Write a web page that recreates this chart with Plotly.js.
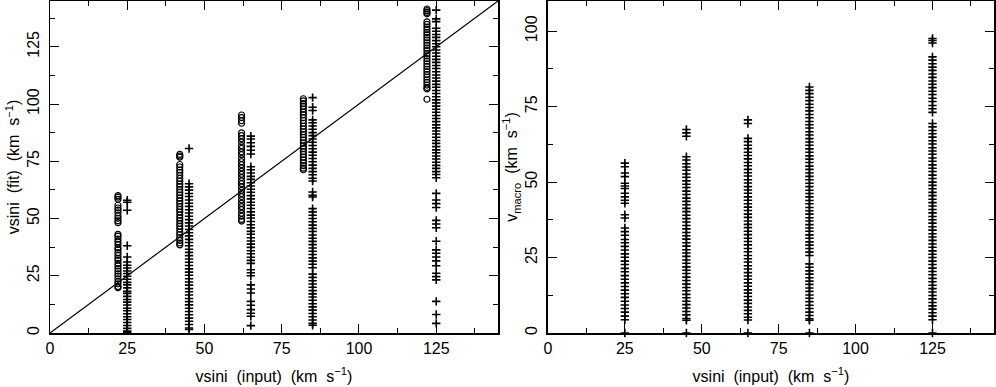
<!DOCTYPE html>
<html>
<head>
<meta charset="utf-8">
<script src="https://cdn.plot.ly/plotly-3.0.1.min.js"></script>
<style>
  html, body { margin: 0; padding: 0; background: #fff; }
  #chart { width: 996px; height: 387px; }
</style>
</head>
<body>
<div id="chart"></div>
<script>
// Left panel: fitted vsini vs input vsini (circles: one method, plus: other)
var fitCircleX = [22, 42, 62, 82, 122]
var fitPlusX = [25, 45, 65, 85, 125]

var fitCircle22 = [60.0, 59.3, 58.4, 55.8, 54.6, 53.7, 52.5, 51.2, 50.1, 49.0, 48.2, 43.1, 42.3, 41.0, 39.8, 38.7, 37.2, 36.4, 35.1, 33.9, 32.6, 31.8, 30.4, 29.3, 28.1, 27.0, 25.8, 24.9, 23.6, 22.4, 21.5, 20.3, 19.8]
var fitCircle42 = [78.0, 77.3, 76.8, 73.6, 72.5, 71.2, 70.1, 68.8, 67.5, 66.3, 65.0, 63.9, 62.6, 61.4, 60.2, 58.9, 57.7, 56.5, 55.2, 54.0, 52.8, 51.5, 50.3, 49.1, 47.8, 46.6, 45.4, 44.1, 42.9, 41.6, 40.4, 39.3, 38.5]
var fitCircle62 = [95.2, 94.1, 92.7, 91.6, 87.4, 86.2, 84.9, 83.5, 81.8, 80.6, 79.1, 77.9, 76.2, 74.8, 73.5, 72.1, 70.6, 69.3, 67.9, 66.4, 65.2, 63.8, 62.3, 60.9, 59.6, 58.1, 56.6, 55.2, 53.9, 52.3, 51.0, 49.6, 48.9]
var fitCircle82 = [102.3, 101.4, 100.2, 99.0, 97.8, 96.5, 95.3, 94.0, 92.8, 91.6, 90.3, 89.1, 87.9, 86.6, 85.4, 84.2, 82.9, 81.7, 80.5, 79.2, 78.0, 76.8, 75.5, 74.3, 73.1, 72.0, 71.3]
var fitCircle122 = [141.5, 140.8, 140.0, 139.4, 135.9, 134.8, 133.6, 132.5, 131.3, 130.2, 129.0, 127.9, 126.7, 125.6, 124.4, 123.3, 122.1, 121.0, 119.8, 118.7, 117.5, 116.4, 115.2, 114.1, 112.9, 111.8, 110.6, 109.5, 108.3, 107.2, 106.6, 102.1]

var fitPlus25 = [58.0, 57.1, 53.6, 38.1, 33.2, 31.0, 29.6, 28.4, 27.1, 26.0, 24.8, 23.5, 22.1, 21.0, 19.7, 18.2, 17.3, 16.0, 14.6, 13.5, 12.2, 10.8, 9.7, 8.4, 7.1, 5.9, 4.6, 3.3, 2.0, 0.8, 0.2]
var fitPlus45 = [80.6, 65.2, 63.8, 62.4, 60.9, 59.6, 58.1, 56.7, 55.3, 53.8, 52.4, 51.0, 49.5, 48.1, 46.7, 45.2, 43.8, 42.4, 40.9, 39.5, 38.1, 36.6, 35.2, 33.8, 32.3, 30.9, 29.5, 28.0, 26.6, 25.2, 23.7, 22.3, 20.9, 19.4, 18.0, 16.6, 15.1, 13.7, 12.3, 10.8, 9.4, 8.0, 6.5, 5.1, 3.7, 2.2, 1.5]
var fitPlus65 = [86.0, 84.7, 83.1, 81.5, 79.8, 78.2, 72.6, 71.3, 69.9, 68.4, 67.1, 65.6, 64.2, 62.8, 61.5, 60.0, 58.6, 57.1, 55.8, 54.4, 52.9, 51.5, 50.2, 48.7, 47.3, 45.9, 44.4, 43.1, 41.6, 40.2, 38.8, 37.4, 35.9, 34.6, 33.1, 31.7, 30.4, 27.6, 26.3, 25.0, 21.0, 19.2, 17.5, 13.8, 12.1, 10.2, 8.6, 7.3, 3.2]
var fitPlus85 = [102.8, 98.6, 97.2, 93.1, 91.8, 90.4, 89.0, 87.5, 86.2, 84.7, 83.3, 81.9, 80.5, 79.0, 77.6, 76.2, 74.8, 73.3, 71.9, 70.5, 69.1, 67.6, 66.4, 61.6, 60.1, 59.4, 54.3, 52.9, 51.4, 50.0, 48.6, 47.1, 45.7, 44.3, 42.8, 41.4, 40.0, 38.6, 37.1, 35.7, 34.3, 32.8, 31.4, 30.0, 28.5, 25.7, 24.3, 22.8, 21.4, 20.0, 18.5, 17.1, 15.7, 14.3, 12.8, 11.4, 10.0, 8.5, 7.1, 5.7, 4.2, 3.4]
var fitPlus125 = [141.0, 137.2, 136.0, 133.1, 131.8, 130.4, 129.1, 127.7, 126.3, 125.0, 123.6, 122.3, 120.9, 119.5, 118.2, 116.8, 115.5, 114.1, 112.7, 111.4, 110.0, 108.6, 107.3, 105.9, 104.6, 103.2, 101.8, 100.5, 99.1, 97.7, 96.4, 95.0, 93.7, 92.3, 90.9, 89.6, 88.2, 86.9, 85.5, 84.1, 82.8, 81.4, 80.0, 78.7, 77.3, 76.0, 74.6, 73.2, 71.9, 70.5, 69.2, 67.8, 61.0, 58.1, 56.5, 54.8, 49.2, 47.6, 46.0, 40.1, 36.3, 34.8, 33.2, 31.5, 29.4, 26.1, 24.6, 23.2, 13.8, 8.1, 4.2]

// one-to-one line
var lineX = [0, 145]
var lineY = [0, 145]

// Right panel: macroturbulence vs input vsini
var macroX = [25, 45, 65, 85, 125]
var macro25 = [56.3, 55.1, 53.0, 51.8, 49.6, 48.7, 47.9, 46.3, 45.1, 44.0, 43.0, 39.2, 38.1, 34.8, 33.6, 32.4, 31.0, 29.9, 28.7, 27.5, 26.2, 25.1, 23.8, 22.7, 21.4, 20.3, 19.0, 17.8, 16.6, 15.4, 14.2, 13.0, 11.8, 10.5, 9.3, 8.1, 6.9, 5.6, 4.4, 0.0]
var macro45 = [67.4, 66.3, 65.2, 58.4, 57.3, 56.1, 55.0, 53.9, 52.7, 51.6, 50.4, 49.3, 48.2, 47.0, 45.9, 44.7, 43.6, 42.5, 41.3, 40.2, 39.0, 37.9, 36.8, 35.6, 34.5, 33.3, 32.2, 31.1, 29.9, 28.8, 27.6, 26.5, 25.4, 24.2, 23.1, 21.9, 20.8, 19.7, 18.5, 17.4, 16.2, 15.1, 14.0, 12.8, 11.7, 10.5, 9.4, 8.3, 7.1, 6.0, 4.8, 4.2, 0.0]
var macro65 = [70.6, 69.4, 64.5, 63.4, 62.2, 61.1, 59.9, 58.8, 57.7, 56.5, 55.4, 54.2, 53.1, 52.0, 50.8, 49.7, 48.5, 47.4, 46.3, 45.1, 44.0, 42.8, 41.7, 40.6, 39.4, 38.3, 37.1, 36.0, 34.9, 33.7, 32.6, 31.4, 30.3, 29.2, 28.0, 26.9, 25.7, 24.6, 23.5, 22.3, 21.2, 20.0, 18.9, 17.8, 16.6, 15.5, 14.3, 13.2, 12.1, 10.9, 9.8, 8.6, 7.5, 6.4, 5.2, 4.3, 0.0]
var macro85 = [81.5, 80.4, 79.3, 78.1, 77.0, 75.8, 74.7, 73.6, 72.4, 71.3, 70.1, 69.0, 67.9, 66.7, 65.6, 64.4, 63.3, 62.2, 61.0, 59.9, 58.7, 57.6, 56.5, 55.3, 54.2, 53.0, 51.9, 50.8, 49.6, 48.5, 47.3, 46.2, 45.1, 43.9, 42.8, 41.6, 40.5, 39.4, 38.2, 37.1, 35.9, 34.8, 33.7, 32.5, 31.4, 30.2, 29.1, 28.0, 26.8, 25.7, 22.9, 21.8, 20.6, 19.5, 18.3, 17.2, 16.1, 14.9, 13.8, 12.6, 11.5, 10.4, 9.2, 8.1, 6.9, 5.8, 4.7, 4.2, 0.0]
var macro125 = [97.6, 96.9, 96.1, 91.5, 90.4, 89.2, 88.1, 87.0, 85.8, 84.7, 83.5, 82.4, 81.3, 80.1, 79.0, 77.8, 76.7, 75.4, 74.3, 73.1, 69.4, 68.3, 67.1, 66.0, 64.9, 63.7, 62.6, 61.4, 60.3, 59.2, 58.0, 56.9, 55.7, 54.6, 53.5, 52.3, 51.2, 50.0, 48.9, 47.8, 46.6, 45.5, 44.3, 43.2, 42.1, 40.9, 39.8, 38.6, 37.5, 36.4, 35.2, 34.1, 32.9, 31.8, 30.7, 29.5, 28.4, 27.2, 26.1, 25.0, 23.8, 22.7, 21.5, 20.4, 19.3, 18.1, 17.0, 15.8, 14.7, 13.6, 12.4, 11.3, 10.1, 9.0, 7.9, 6.7, 5.6, 4.4, 0.0]

var fitCircles = [fitCircle22, fitCircle42, fitCircle62, fitCircle82, fitCircle122]
var fitPluses = [fitPlus25, fitPlus45, fitPlus65, fitPlus85, fitPlus125]
var macroCols = [macro25, macro45, macro65, macro85, macro125]

function column(xs, cols) {
    var x = [], y = []
    for (let i = 0; i < cols.length; i++) {
        for (let j = 0; j < cols[i].length; j++) {
            x.push(xs[i])
            y.push(cols[i][j])
        }
    }
    return { x: x, y: y }
}

var circ = column(fitCircleX, fitCircles)
var plus = column(fitPlusX, fitPluses)
var mac = column(macroX, macroCols)

var plusMarker = { symbol: 'cross-thin-open', size: 6, color: '#000', line: { color: '#000', width: 1.6 } }

var traces = [
    {
        x: circ.x, y: circ.y, mode: 'markers', type: 'scatter',
        marker: { symbol: 'circle-open', size: 6, color: '#000', line: { color: '#000', width: 1.2 } },
        xaxis: 'x', yaxis: 'y'
    },
    {
        x: plus.x, y: plus.y, mode: 'markers', type: 'scatter',
        marker: plusMarker, xaxis: 'x', yaxis: 'y'
    },
    {
        x: lineX, y: lineY, mode: 'lines', type: 'scatter',
        line: { color: '#000', width: 1.2 }, xaxis: 'x', yaxis: 'y'
    },
    {
        x: mac.x, y: mac.y, mode: 'markers', type: 'scatter',
        marker: plusMarker, xaxis: 'x2', yaxis: 'y2', cliponaxis: false
    }
]

var font = { family: 'Liberation Sans, Arial, Helvetica, sans-serif', size: 16, color: '#000' }

function axis(extra) {
    var a = {
        showline: true, mirror: 'ticks', linecolor: '#000', linewidth: 1.5,
        ticks: 'inside', ticklen: 9, tickwidth: 1, tickcolor: '#000',
        dtick: 25, tick0: 0,
        minor: { dtick: 12.5, ticks: 'inside', ticklen: 5, tickwidth: 1, tickcolor: '#000' },
        showgrid: false, zeroline: false, tickfont: font, automargin: false, fixedrange: true
    }
    for (var k in extra) a[k] = extra[k]
    return a
}

var layout = {
    width: 996, height: 387,
    margin: { l: 50, r: 2, t: 1, b: 54 },
    showlegend: false,
    paper_bgcolor: '#fff', plot_bgcolor: '#fff',
    font: font,
    xaxis: axis({ domain: [0, 0.4746], range: [0, 145], anchor: 'y',
        title: { text: 'vsini  (input)  (km  s<sup>\u22121</sup>)', font: font, standoff: 15 } }),
    yaxis: axis({ domain: [0, 1], range: [0, 145], anchor: 'x', tickangle: -90, ticklabelstandoff: 3,
        title: { text: 'vsini  (fit)  (km  s<sup>\u22121</sup>)', font: font, standoff: 1 } }),
    xaxis2: axis({ domain: [0.5275, 1], range: [0, 145], anchor: 'y2',
        title: { text: 'vsini  (input)  (km  s<sup>\u22121</sup>)', font: font, standoff: 15 } }),
    yaxis2: axis({ domain: [0, 1], range: [0, 110], anchor: 'x2', tickangle: -90, ticklabelstandoff: 3,
        title: { text: 'v<sub>macro</sub>  (km  s<sup>\u22121</sup>)', font: font, standoff: 1 } })
}

Plotly.newPlot('chart', traces, layout, { staticPlot: true, displayModeBar: false })
</script>
</body>
</html>
